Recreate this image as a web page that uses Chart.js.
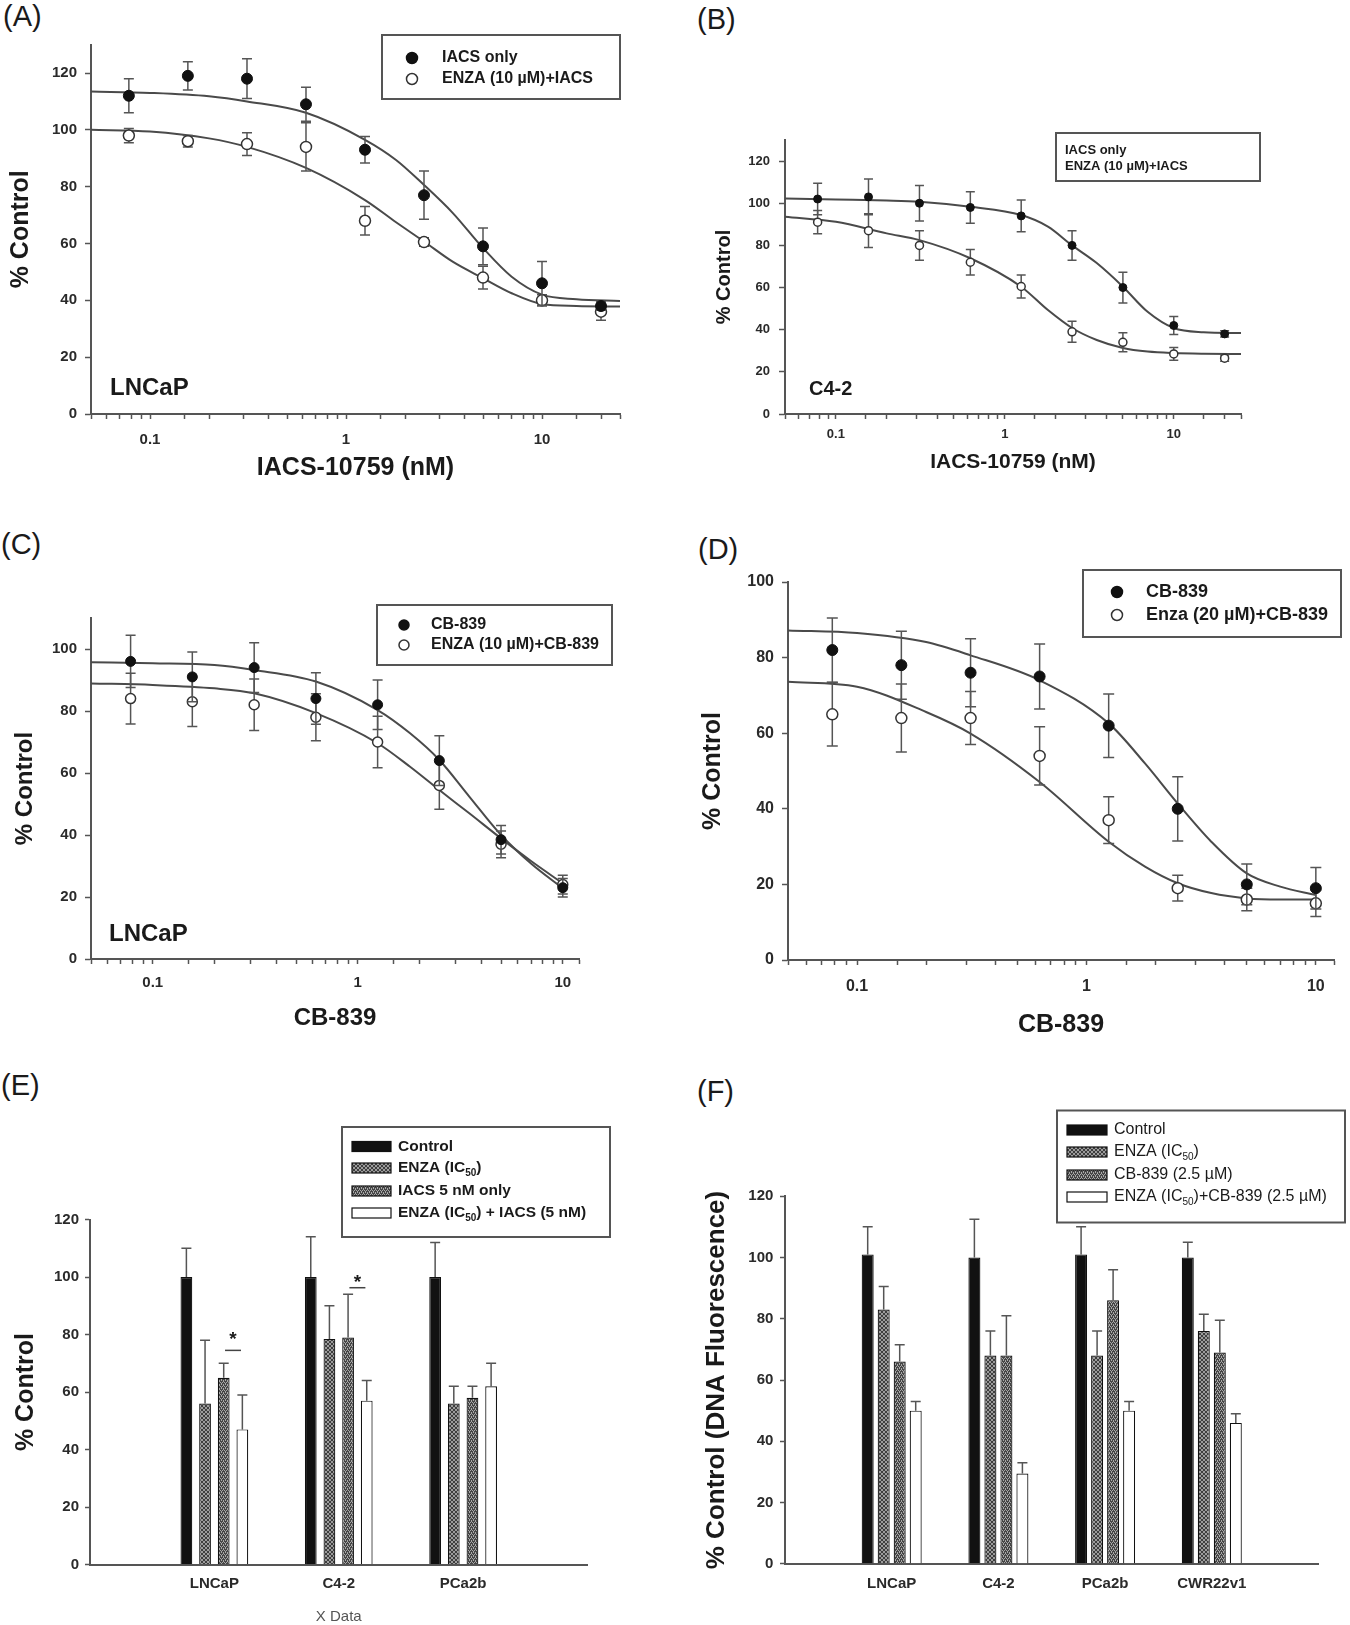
<!DOCTYPE html>
<html>
<head>
<meta charset="utf-8">
<title>IACS-10759 / CB-839 viability</title>
<script src="https://cdn.jsdelivr.net/npm/chart.js@4.4.1/dist/chart.umd.min.js"></script>
<style>
  body { margin: 0; width: 1350px; height: 1625px; position: relative; background: #fff; overflow: hidden;
         font-family: "Liberation Sans", Arial, sans-serif; color: #1a1a1a; }
  canvas { position: absolute; }
  .tag { position: absolute; font-size: 29px; line-height: 1; }
  .cell { position: absolute; font-weight: bold; line-height: 1; transform: translateY(-50%); }
</style>
</head>
<body>
<div class="tag" style="left:3px;top:2px">(A)</div>
<div class="tag" style="left:697px;top:5px">(B)</div>
<div class="tag" style="left:1px;top:530px">(C)</div>
<div class="tag" style="left:698px;top:535px">(D)</div>
<div class="tag" style="left:1px;top:1071px">(E)</div>
<div class="tag" style="left:697px;top:1077px">(F)</div>

<canvas id="chartA"></canvas>
<canvas id="chartB"></canvas>
<canvas id="chartC"></canvas>
<canvas id="chartD"></canvas>
<canvas id="chartE"></canvas>
<canvas id="chartF"></canvas>

<div class="cell" style="left:110px;top:387px;font-size:24px">LNCaP</div>
<div class="cell" style="left:809px;top:388px;font-size:20px">C4-2</div>
<div class="cell" style="left:109px;top:933px;font-size:24px">LNCaP</div>

<script>
// doses (nM)
const iacsDoses = [0.078, 0.156, 0.3125, 0.625, 1.25, 2.5, 5, 10, 20];
const cbDoses = [0.078, 0.156, 0.3125, 0.625, 1.25, 2.5, 5, 10];
const iacsFitDoses = [0.05, 0.1, 0.2, 0.3125, 0.625, 1.25, 1.8, 2.5, 3.5, 5, 7, 10, 15, 25];
const cbFitDoses = [0.05, 0.1, 0.2, 0.3125, 0.625, 1.25, 1.8, 2.5, 3.5, 5, 7, 10];

// (A) LNCaP, IACS-10759
const aNames = ['IACS only', 'ENZA (10 µM)+IACS'];
const aIacsOnly = [112, 119, 118, 109, 93, 77, 59, 46, 38];
const aIacsOnlySem = [6, 5, 7, 6, 4.7, 8.5, 6.5, 7.7, 1.5];
const aEnzaIacs = [98, 96, 95, 94, 68, 60.5, 48, 40, 36];
const aEnzaIacsSem = [2.5, 2, 4, 8.5, 5, 1.5, 4, 2, 3];
const aIacsOnlyFit = [113.5, 113, 111.8, 110, 106, 96.5, 89.4, 80.6, 70.8, 58.4, 48.3, 42, 40.4, 39.8];
const aEnzaIacsFit = [100, 99.4, 97, 94, 86.6, 75.3, 67.5, 60.7, 53.6, 47.8, 42.5, 38.7, 38, 37.8];

// (B) C4-2, IACS-10759
const bNames = ['IACS only', 'ENZA (10 µM)+IACS'];
const bIacsOnly = [102, 103, 100, 98, 94, 80, 60, 42, 38];
const bIacsOnlySem = [7.5, 8.5, 8.4, 7.5, 7.5, 7, 7.3, 4.3, 1.5];
const bEnzaIacs = [91, 87, 80, 72, 60.5, 39, 34, 28.5, 26.5];
const bEnzaIacsSem = [5.5, 8, 7, 6, 5.5, 5, 4.5, 3, 1.5];
const bIacsOnlyFit = [102.3, 101.8, 101.3, 100.7, 98.3, 94.4, 88.9, 80, 71.6, 60.4, 48.5, 40.8, 38.8, 38.4];
const bEnzaIacsFit = [93.6, 91.2, 85.7, 82.5, 73.9, 60.4, 49.3, 40.8, 35.1, 31.3, 29.6, 28.9, 28.6, 28.5];

// (C) LNCaP, CB-839
const cNames = ['CB-839', 'ENZA (10 µM)+CB-839'];
const cCb = [96, 91, 94, 84, 82, 64, 38.5, 23];
const cCbSem = [8.4, 8, 8, 8.3, 8, 8, 4.6, 3];
const cEnzaCb = [84, 83, 82, 78, 70, 56, 37, 24];
const cEnzaCbSem = [8.2, 8, 8.3, 7.6, 8.3, 7.7, 4.3, 3];
const cCbFit = [95.7, 95.4, 94.8, 93.2, 89.5, 80.3, 72.8, 64.2, 52.4, 40, 30.8, 22.8];
const cEnzaCbFit = [88.9, 88.4, 87.3, 85.7, 79.3, 69.6, 62, 54.5, 47, 38.9, 31.6, 24.4];

// (D) CB-839 with Enza 20 µM
const dNames = ['CB-839', 'Enza (20 µM)+CB-839'];
const dCb = [82, 78, 76, 75, 62, 40, 20, 19];
const dCbSem = [8.5, 9, 9, 8.6, 8.4, 8.5, 5.4, 5.5];
const dEnzaCb = [65, 64, 64, 54, 37, 19, 16, 15];
const dEnzaCbSem = [8.4, 9, 7, 7.7, 6.2, 3.4, 3, 3.5];
const dCbFit = [87.2, 86.5, 84.1, 80.6, 74, 62.6, 52, 41.4, 31.3, 22.9, 19.4, 17.2];
const dEnzaCbFit = [73.6, 72.3, 65.6, 59.9, 47.1, 31.3, 24.7, 20.3, 17.7, 16.3, 16, 16];

// (E) bars, IACS 5 nM
const eCells = ['LNCaP', 'C4-2', 'PCa2b'];
const eNames = ['Control', 'ENZA (IC_{50})', 'IACS 5 nM only', 'ENZA (IC_{50}) + IACS (5 nM)'];
const eControl = [100, 100, 100];
const eControlSem = [10, 14, 12];
const eEnza = [56, 78.5, 56];
const eEnzaSem = [22, 11.5, 6];
const eIacs = [65, 79, 58];
const eIacsSem = [5, 15, 4];
const eCombo = [47, 57, 62];
const eComboSem = [12, 7, 8];
const eSigCells = ['LNCaP', 'C4-2'];
const eSigStar = [79.5, 99.5];
const eSigLine = [74.5, 96.3];

// (F) bars, CB-839 2.5 µM
const fCells = ['LNCaP', 'C4-2', 'PCa2b', 'CWR22v1'];
const fNames = ['Control', 'ENZA (IC_{50})', 'CB-839 (2.5 µM)', 'ENZA (IC_{50})+CB-839 (2.5 µM)'];
const fControl = [101, 100, 101, 100];
const fControlSem = [9, 12.5, 9, 5];
const fEnza = [83, 68, 68, 76];
const fEnzaSem = [7.5, 8, 8, 5.5];
const fCb = [66, 68, 86, 69];
const fCbSem = [5.5, 13, 10, 10.5];
const fCombo = [50, 29.5, 50, 46];
const fComboSem = [3, 3.5, 3, 3];

const FONT = '"Liberation Sans", Arial, Helvetica, sans-serif';
const INK = '#1a1a1a';
const AXIS = '#555';
Chart.defaults.font.family = FONT;
Chart.defaults.color = INK;

function isDecade(v) {
  const l = Math.log10(v);
  return Math.abs(l - Math.round(l)) < 1e-6;
}

function pts(xs, ys) {
  return xs.map((x, i) => ({x: x, y: ys[i]}));
}

// put the canvas on the page and work out paddings so the plot area lands where it should
function place(cv, box, area, yt, xt) {
  cv.width = box[2];
  cv.height = box[3];
  cv.style.left = box[0] + 'px';
  cv.style.top = box[1] + 'px';
  const yw = area[0] - (yt.x - 0.6 * yt.size);
  const xh = xt.y + 0.6 * xt.size - area[3];
  return {
    yw: yw, xh: xh,
    padding: {left: area[0] - box[0] - yw, top: area[1] - box[1], right: box[0] + box[2] - area[2], bottom: box[1] + box[3] - area[3] - xh}
  };
}

function richText(ctx, text, x, y, size, weight) {
  let cx = x;
  text.split(/(_\{[^}]*\})/).forEach(p => {
    if (!p) return;
    const sub = p.startsWith('_{');
    const t = sub ? p.slice(2, -1) : p;
    const s = sub ? Math.round(size * 0.62) : size;
    ctx.font = weight + ' ' + s + 'px ' + FONT;
    ctx.fillText(t, cx, sub ? y + size * 0.32 : y);
    cx += ctx.measureText(t).width;
  });
}

const errorBars = {
  id: 'errorBars',
  beforeDatasetDraw(chart, args, opts) {
    const ds = chart.data.datasets[args.index];
    if (!ds.sem) return;
    const ctx = chart.ctx, ys = chart.scales.y;
    const cap = opts.cap || 5;
    ctx.save();
    ctx.strokeStyle = opts.color || '#555';
    ctx.lineWidth = opts.width || 1.5;
    args.meta.data.forEach((el, i) => {
      const p = args.meta.controller.getParsed(i);
      const e = ds.sem[i];
      if (!p || p.y == null || isNaN(p.y) || e == null) return;
      const top = ys.getPixelForValue(p.y + e);
      const bot = ds.upOnly ? ys.getPixelForValue(p.y) : ys.getPixelForValue(p.y - e);
      ctx.beginPath();
      ctx.moveTo(el.x, top); ctx.lineTo(el.x, bot);
      ctx.moveTo(el.x - cap, top); ctx.lineTo(el.x + cap, top);
      if (!ds.upOnly) { ctx.moveTo(el.x - cap, bot); ctx.lineTo(el.x + cap, bot); }
      ctx.stroke();
    });
    ctx.restore();
  }
};

const boxLegend = {
  id: 'boxLegend',
  afterDraw(chart, args, o) {
    if (!o.rows) return;
    const ctx = chart.ctx;
    const ox = chart.canvas.offsetLeft, oy = chart.canvas.offsetTop;
    const named = chart.data.datasets.filter(d => d.label);
    ctx.save();
    ctx.strokeStyle = '#555';
    ctx.lineWidth = 2;
    ctx.strokeRect(o.box[0] - ox, o.box[1] - oy, o.box[2], o.box[3]);
    ctx.textBaseline = 'middle';
    ctx.textAlign = 'left';
    named.forEach((ds, i) => {
      const y = o.rows[i] - oy;
      if (o.kind === 'points') {
        ctx.beginPath();
        ctx.arc(o.markX - ox, y, o.r, 0, Math.PI * 2);
        ctx.fillStyle = ds.backgroundColor;
        ctx.fill();
        ctx.lineWidth = 1.5;
        ctx.strokeStyle = ds.borderColor;
        ctx.stroke();
      } else if (o.kind === 'bars') {
        ctx.fillStyle = ds.backgroundColor;
        ctx.fillRect(o.swX - ox, y - o.swH / 2, o.swW, o.swH);
        ctx.lineWidth = 1.2;
        ctx.strokeStyle = '#111';
        ctx.strokeRect(o.swX - ox, y - o.swH / 2, o.swW, o.swH);
      }
      ctx.fillStyle = INK;
      richText(ctx, ds.label, o.textX - ox, y, o.size, o.weight);
    });
    ctx.restore();
  }
};

const sigMarks = {
  id: 'sigMarks',
  afterDatasetsDraw(chart, args, o) {
    if (!o.cells) return;
    const ctx = chart.ctx, ys = chart.scales.y;
    const labels = chart.data.labels;
    ctx.save();
    o.cells.forEach((cell, k) => {
      const at = labels.indexOf(cell);
      const a = chart.getDatasetMeta(2).data[at], b = chart.getDatasetMeta(3).data[at];
      const cx = (a.x + b.x) / 2;
      const ly = ys.getPixelForValue(o.line[k]);
      ctx.strokeStyle = '#444';
      ctx.lineWidth = 1.5;
      ctx.beginPath();
      ctx.moveTo(cx - 8, ly); ctx.lineTo(cx + 8, ly);
      ctx.stroke();
      ctx.fillStyle = INK;
      ctx.font = 'bold 19px ' + FONT;
      ctx.textAlign = 'center';
      ctx.textBaseline = 'middle';
      ctx.fillText('*', cx, ys.getPixelForValue(o.star[k]) + 4);
    });
    ctx.restore();
  }
};

function doseChart(id, p) {
  const cv = document.getElementById(id);
  const lay = place(cv, p.box, p.area, p.yTitle, p.xTitle);
  return new Chart(cv, {
    type: 'scatter',
    data: {
      datasets: [
        {label: p.names[0], data: pts(p.doses, p.s1), sem: p.e1, backgroundColor: '#111', borderColor: '#111',
         borderWidth: 1, pointRadius: p.r, pointHoverRadius: p.r},
        {label: p.names[1], data: pts(p.doses, p.s2), sem: p.e2, backgroundColor: '#fff', borderColor: '#333',
         borderWidth: 1.5, pointRadius: p.r, pointHoverRadius: p.r},
        {data: pts(p.fitX, p.f1), showLine: true, pointRadius: 0, borderColor: '#4a4a4a', borderWidth: 2,
         cubicInterpolationMode: 'monotone'},
        {data: pts(p.fitX, p.f2), showLine: true, pointRadius: 0, borderColor: '#4a4a4a', borderWidth: 2,
         cubicInterpolationMode: 'monotone'}
      ]
    },
    options: {
      responsive: false,
      animation: false,
      devicePixelRatio: 1,
      layout: {padding: lay.padding},
      plugins: {
        legend: {display: false},
        tooltip: {enabled: false},
        errorBars: {cap: p.cap},
        boxLegend: p.legend
      },
      scales: {
        x: {
          type: 'logarithmic', min: 0.05, max: p.xMax,
          ticks: {autoSkip: false, maxRotation: 0, padding: p.xPad, color: '#2a2a2a',
                  font: {size: p.tick, weight: 'bold'}, callback: v => isDecade(v) ? String(v) : ''},
          grid: {drawOnChartArea: false, tickLength: 5, color: AXIS, tickWidth: 1.5},
          border: {color: AXIS, width: 2},
          title: {display: true, text: p.xTitle.text, color: INK, padding: 0, font: {size: p.xTitle.size, weight: 'bold'}},
          afterFit: s => { s.height = lay.xh; }
        },
        y: {
          min: 0, max: p.yMax,
          ticks: {stepSize: 20, padding: p.yPad, color: '#2a2a2a', font: {size: p.tick, weight: 'bold'}},
          grid: {drawOnChartArea: false, tickLength: 6, color: AXIS, tickWidth: 1.5},
          border: {color: AXIS, width: 2},
          title: {display: true, text: p.yTitle.text, color: INK, padding: 0, font: {size: p.yTitle.size, weight: 'bold'}},
          afterBuildTicks: s => { s.ticks = s.ticks.filter(t => t.value <= p.yTop); },
          afterFit: s => { s.width = lay.yw; }
        }
      }
    },
    plugins: [errorBars, boxLegend]
  });
}

function hatch(ctx, kind) {
  const t = document.createElement('canvas');
  t.width = t.height = 4;
  const g = t.getContext('2d');
  g.fillStyle = kind ? '#454545' : '#3e3e3e';
  g.fillRect(0, 0, 4, 4);
  g.fillStyle = kind ? '#a8a8a8' : '#9c9c9c';
  const dots = kind
    ? [[0, 0], [2, 0], [1, 2], [3, 2], [1, 1], [3, 3]]
    : [[0, 0], [1, 1], [2, 2], [3, 3], [3, 0], [2, 1], [1, 2], [0, 3]];
  dots.forEach(d => g.fillRect(d[0], d[1], 1, 1));
  return ctx.createPattern(t, 'repeat');
}

function barChart(id, p) {
  const cv = document.getElementById(id);
  const lay = place(cv, p.box, p.area, p.yTitle, p.xTitle);
  const ctx = cv.getContext('2d');
  const fills = ['#111', hatch(ctx, 0), hatch(ctx, 1), '#fff'];
  const datasets = p.series.map((vals, k) => ({
    label: p.names[k],
    data: [null].concat(vals, [null]),
    sem: [null].concat(p.sems[k], [null]),
    upOnly: true,
    backgroundColor: fills[k],
    borderColor: '#111',
    borderWidth: 1.2,
    categoryPercentage: 0.6,
    barPercentage: p.barPct
  }));
  return new Chart(cv, {
    type: 'bar',
    data: {labels: [''].concat(p.cells, ['']), datasets: datasets},
    options: {
      responsive: false,
      animation: false,
      devicePixelRatio: 1,
      layout: {padding: lay.padding},
      plugins: {
        legend: {display: false},
        tooltip: {enabled: false},
        errorBars: {cap: 5},
        boxLegend: p.legend,
        sigMarks: p.sig || {}
      },
      scales: {
        x: {
          offset: false,
          ticks: {autoSkip: false, maxRotation: 0, padding: p.xPad, color: '#2a2a2a', font: {size: 15, weight: 'bold'}},
          grid: {display: true, drawOnChartArea: false, drawTicks: false, color: AXIS},
          border: {color: AXIS, width: 2},
          title: {display: !!p.xTitle.text, text: p.xTitle.text, color: '#555', padding: 0, font: {size: p.xTitle.size, weight: 'normal'}},
          afterFit: s => { s.height = lay.xh; }
        },
        y: {
          min: 0, max: 120,
          ticks: {stepSize: 20, padding: p.yPad, color: '#2a2a2a', font: {size: 15, weight: 'bold'}},
          grid: {drawOnChartArea: false, tickLength: 5, color: AXIS, tickWidth: 1.5},
          border: {color: AXIS, width: 2},
          title: {display: true, text: p.yTitle.text, color: INK, padding: 0, font: {size: p.yTitle.size, weight: 'bold'}},
          afterFit: s => { s.width = lay.yw; }
        }
      }
    },
    plugins: [errorBars, boxLegend, sigMarks]
  });
}

doseChart('chartA', {
  box: [0, 0, 650, 510], area: [91, 44.6, 620, 414], xMax: 25, yMax: 130, yTop: 120,
  yTitle: {text: '% Control', x: 21, size: 25}, xTitle: {text: 'IACS-10759 (nM)', y: 468, size: 25},
  tick: 15, xPad: 12, yPad: 8, r: 5.5, cap: 5,
  names: aNames, doses: iacsDoses, s1: aIacsOnly, e1: aIacsOnlySem, s2: aEnzaIacs, e2: aEnzaIacsSem,
  fitX: iacsFitDoses, f1: aIacsOnlyFit, f2: aEnzaIacsFit,
  legend: {kind: 'points', box: [382, 35, 238, 64], rows: [58, 79], markX: 412, r: 5.5, textX: 442, size: 16, weight: 'bold'}
});

doseChart('chartB', {
  box: [650, 0, 700, 510], area: [785, 140, 1241, 414], xMax: 25, yMax: 130, yTop: 120,
  yTitle: {text: '% Control', x: 724, size: 20}, xTitle: {text: 'IACS-10759 (nM)', y: 462, size: 21},
  tick: 13, xPad: 8, yPad: 9, r: 4, cap: 4.5,
  names: bNames, doses: iacsDoses, s1: bIacsOnly, e1: bIacsOnlySem, s2: bEnzaIacs, e2: bEnzaIacsSem,
  fitX: iacsFitDoses, f1: bIacsOnlyFit, f2: bEnzaIacsFit,
  legend: {kind: 'text', box: [1056, 133, 204, 48], rows: [150, 166], textX: 1065, size: 13, weight: 'bold'}
});

doseChart('chartC', {
  box: [0, 515, 650, 530], area: [91, 618, 579, 959], xMax: 12, yMax: 110, yTop: 100,
  yTitle: {text: '% Control', x: 25, size: 24}, xTitle: {text: 'CB-839', y: 1018, size: 24},
  tick: 15, xPad: 10, yPad: 8, r: 5, cap: 5,
  names: cNames, doses: cbDoses, s1: cCb, e1: cCbSem, s2: cEnzaCb, e2: cEnzaCbSem,
  fitX: cbFitDoses, f1: cCbFit, f2: cEnzaCbFit,
  legend: {kind: 'points', box: [377, 605, 235, 60], rows: [625, 645], markX: 404, r: 5, textX: 431, size: 16, weight: 'bold'}
});

doseChart('chartD', {
  box: [650, 515, 700, 530], area: [788, 582, 1334, 960], xMax: 12, yMax: 100, yTop: 100,
  yTitle: {text: '% Control', x: 713, size: 25}, xTitle: {text: 'CB-839', y: 1025, size: 25},
  tick: 16, xPad: 12, yPad: 8, r: 5.5, cap: 5.5,
  names: dNames, doses: cbDoses, s1: dCb, e1: dCbSem, s2: dEnzaCb, e2: dEnzaCbSem,
  fitX: cbFitDoses, f1: dCbFit, f2: dEnzaCbFit,
  legend: {kind: 'points', box: [1083, 570, 258, 67], rows: [592, 615], markX: 1117, r: 5.5, textX: 1146, size: 18, weight: 'bold'}
});

barChart('chartE', {
  box: [0, 1050, 650, 582], area: [90, 1219.6, 587.5, 1564.5],
  yTitle: {text: '% Control', x: 26, size: 25}, xTitle: {text: 'X Data', y: 1617, size: 15},
  yPad: 6, xPad: 10.8, barPct: 0.63,
  cells: eCells, names: eNames,
  series: [eControl, eEnza, eIacs, eCombo], sems: [eControlSem, eEnzaSem, eIacsSem, eComboSem],
  sig: {cells: eSigCells, star: eSigStar, line: eSigLine},
  legend: {kind: 'bars', box: [342, 1127, 268, 110], rows: [1146.5, 1168, 1191, 1213], swX: 352, swW: 39, swH: 10, textX: 398, size: 15.5, weight: 'bold'}
});

barChart('chartF', {
  box: [650, 1050, 700, 582], area: [785, 1196.2, 1318.5, 1563.8],
  yTitle: {text: '% Control (DNA Fluorescence)', x: 716.7, size: 26}, xTitle: {text: '', y: 1610, size: 0},
  yPad: 6.6, xPad: 11.5, barPct: 0.75,
  cells: fCells, names: fNames,
  series: [fControl, fEnza, fCb, fCombo], sems: [fControlSem, fEnzaSem, fCbSem, fComboSem],
  legend: {kind: 'bars', box: [1057, 1110.5, 288, 112], rows: [1130, 1152, 1175, 1197], swX: 1067, swW: 40, swH: 10, textX: 1114, size: 16, weight: 'normal'}
});
</script>
</body>
</html>
